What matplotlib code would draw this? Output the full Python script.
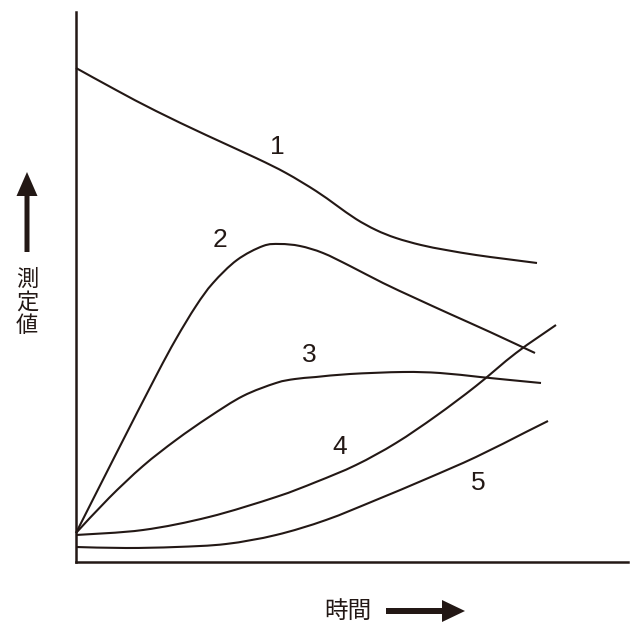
import matplotlib
matplotlib.use("Agg")
import matplotlib.pyplot as plt
import numpy as np
from matplotlib.patches import FancyArrow, PathPatch
from matplotlib.path import Path

plt.rcParams['font.family'] = ['Noto Sans CJK JP', 'DejaVu Sans']

INK = '#231815'

c1_x = [0, 40, 80, 130, 180, 210, 240, 260, 280, 300, 320, 345, 370, 400, 430, 461]
c1_y = [494, 472, 451, 427, 404, 389, 371, 357, 343, 332, 324, 317, 312, 307, 303, 299]

c2_x = [0, 40, 80, 100, 120, 137, 161, 187, 204, 224, 247, 274, 307, 339, 374, 414, 459]
c2_y = [29, 108, 186, 223, 256, 279, 302, 316, 318, 316, 309, 296, 279, 264, 248, 230, 209]

c3_x = [0, 33, 67, 100, 133, 167, 200, 219, 240, 274, 327, 364, 404, 434, 465]
c3_y = [29, 64, 96, 122, 145, 166, 179, 183, 185, 188, 190, 189, 185, 182, 179]

c4_x = [0, 67, 133, 200, 240, 280, 320, 360, 400, 440, 480]
c4_y = [27, 32, 45, 65, 80, 97, 119, 146, 176, 209, 237]

c5_x = [0, 50, 100, 150, 200, 250, 300, 350, 400, 450, 472]
c5_y = [15, 14, 15, 18, 27, 42, 62, 83, 105, 130, 141]

series = [(c1_x, c1_y), (c2_x, c2_y), (c3_x, c3_y), (c4_x, c4_y), (c5_x, c5_y)]
labels = ['1', '2', '3', '4', '5']
label_x = [201, 144, 233, 264, 402]
label_y = [415, 322, 207, 115, 79]


def smooth_path(xs, ys):
    """Bezier path through the read points (Catmull-Rom style tangents)."""
    p = np.column_stack([xs, ys]).astype(float)
    n = len(p)
    verts = [p[0]]
    codes = [Path.MOVETO]
    for i in range(n - 1):
        p0 = p[i - 1] if i > 0 else p[i]
        p1, p2 = p[i], p[i + 1]
        p3 = p[i + 2] if i + 2 < n else p[i + 1]
        verts += [p1 + (p2 - p0) / 6, p2 - (p3 - p1) / 6, p2]
        codes += [Path.CURVE4] * 3
    return Path(verts, codes)


fig = plt.figure(figsize=(6.44, 6.43), dpi=100)
ax = fig.add_axes([76 / 644, (643 - 562) / 643, 552 / 644, 550 / 643])
ax.set_xlim(0, 552)
ax.set_ylim(0, 550)
for sx, sy in series:
    ax.add_patch(PathPatch(smooth_path(sx, sy), fill=False, edgecolor=INK,
                           lw=1.5, capstyle='butt', joinstyle='round',
                           transform=ax.transData, clip_on=False))
for t, lx, ly in zip(labels, label_x, label_y):
    ax.text(lx, ly, t, ha='center', va='center', fontsize=19,
            family=['Liberation Sans Narrow', 'Liberation Sans', 'DejaVu Sans'], color=INK)
for s in ['top', 'right']:
    ax.spines[s].set_visible(False)
for s in ['left', 'bottom']:
    ax.spines[s].set_linewidth(1.8)
    ax.spines[s].set_color(INK)
ax.set_xticks([])
ax.set_yticks([])

# overlay for axis titles and arrows (pixel-like coordinates)
ov = fig.add_axes([0, 0, 1, 1])
ov.set_xlim(0, 644)
ov.set_ylim(643, 0)
ov.axis('off')
ov.add_patch(FancyArrow(27, 252, 0, -80, width=5, head_width=21, head_length=24,
                        length_includes_head=True, color=INK, lw=0))
ov.add_patch(FancyArrow(386, 611, 79, 0, width=6, head_width=22, head_length=23,
                        length_includes_head=True, color=INK, lw=0))
ov.text(27, 302, '測\n定\n値', ha='center', va='center', fontsize=16,
        linespacing=1.0, color=INK)
ov.text(348, 611, '時間', ha='center', va='center', fontsize=17, color=INK)

fig.savefig('out.png', dpi=100)
